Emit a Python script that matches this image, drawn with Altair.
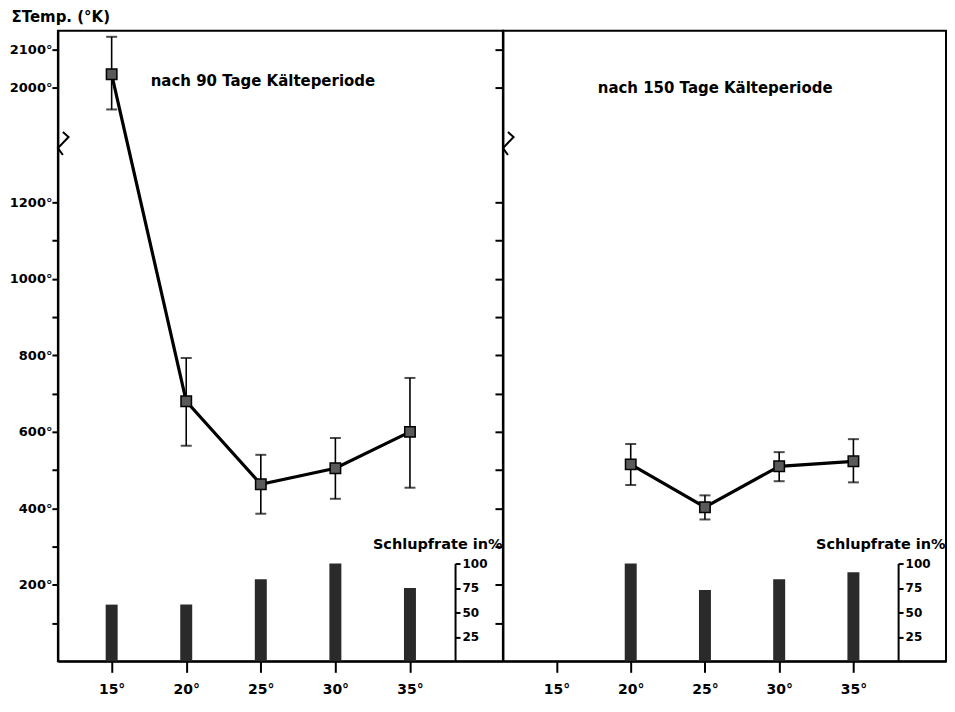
import altair as alt
import pandas as pd

# ---------------- data ----------------
temps = [15, 20, 25, 30, 35]

# after 90 days cold period
t90_temp = [15, 20, 25, 30, 35]
t90_mean = [2035, 680, 463, 505, 600]
t90_lo = [1943, 564, 386, 425, 454]
t90_hi = [2133, 793, 540, 584, 741]
rate90_temp = [15, 20, 25, 30, 35]
rate90 = [58, 58, 84, 100, 75]

# after 150 days cold period
t150_temp = [20, 25, 30, 35]
t150_mean = [515, 403, 510, 523]
t150_lo = [461, 371, 471, 468]
t150_hi = [568, 434, 547, 581]
rate150_temp = [20, 25, 30, 35]
rate150 = [100, 73, 84, 91]

# broken y axis: values above BREAK_AT are shifted down by BREAK_GAP
BREAK_AT = 1500
BREAK_GAP = 500
y_tick_values = [100, 200, 300, 400, 500, 600, 700, 800, 900, 1000, 1100, 1200, 2000, 2100]
y_label_values = [200, 400, 600, 800, 1000, 1200, 2000, 2100]
rate_ticks = [25, 50, 75, 100]

titles = ["nach 90 Tage Kälteperiode", "nach 150 Tage Kälteperiode"]

# ---------------- helpers ----------------
def disp(v):
    return v - BREAK_GAP if v > BREAK_AT else v

FONT = "DejaVu Sans"
W, H = 446, 632
XDOM = [11.73, 40.9]
YDOM = [0, 1649]
UPPER_DISP = 1350  # display values above this belong to the upper (shifted) segment

# zigzag for the axis break (display units)
zig = pd.DataFrame({
    "x": [XDOM[0], XDOM[0] + 0.38, XDOM[0] - 0.33, XDOM[0]],
    "y": [1384, 1371, 1342, 1324],
    "o": [0, 1, 2, 3],
})
zig_gap = pd.DataFrame({"x": [XDOM[0]], "y": [1326], "y2": [1382]})


def panel(tt, mean, lo, hi, rt, rate, title, first):
    df = pd.DataFrame({
        "temp": tt,
        "mean": [disp(v) for v in mean],
        "lo": [disp(v) for v in lo],
        "hi": [disp(v) for v in hi],
    })
    dfr = pd.DataFrame({"temp": rt, "rate": rate})

    x = alt.X(
        "temp:Q",
        scale=alt.Scale(domain=XDOM, nice=False, zero=False),
        axis=alt.Axis(
            values=temps, labelExpr="datum.value + '°'", title=None,
            tickSize=11, tickWidth=2, tickColor="black", domainColor="black",
            domainWidth=2, labelFontSize=14, labelFont=FONT, labelFontWeight="bold",
            labelColor="black", labelPadding=10, grid=False,
        ),
    )
    yscale = alt.Scale(domain=YDOM, nice=False, zero=False)
    disp_ticks = [disp(v) for v in y_tick_values]
    disp_labels = [disp(v) for v in y_label_values]
    label_expr = (
        "indexof(" + str(disp_labels) + ", datum.value) >= 0 ? "
        "(datum.value > " + str(UPPER_DISP) + " ? datum.value + " + str(BREAK_GAP) +
        " : datum.value) + '°' : ''"
    )
    if first:
        yaxis = alt.Axis(
            values=disp_ticks, labelExpr=label_expr, title="ΣTemp. (°K)",
            titleAngle=0, titleAlign="left", titleBaseline="middle",
            titleX=-47, titleY=-14, titleFont=FONT, titleFontSize=15,
            titleFontWeight="bold", titleColor="black",
            tickSize=6, tickWidth=2, tickColor="black", domainColor="black",
            domainWidth=2, labelFontSize=13, labelFont=FONT, labelFontWeight="bold",
            labelColor="black", labelPadding=0, grid=False, minExtent=44, maxExtent=44,
        )
    else:
        yaxis = alt.Axis(
            values=disp_ticks, labels=False, title=None,
            tickSize=8, tickWidth=2, tickColor="black", domainColor="black",
            domainWidth=2, grid=False, minExtent=0, maxExtent=0,
        )

    base = alt.Chart(df)
    err = base.mark_rule(color="black", strokeWidth=1.6).encode(
        x=x, y=alt.Y("lo:Q", scale=yscale, axis=yaxis), y2="hi:Q")
    cap_lo = base.mark_tick(color="black", orient="horizontal", size=11, thickness=2).encode(
        x=x, y=alt.Y("lo:Q", scale=yscale))
    cap_hi = base.mark_tick(color="black", orient="horizontal", size=11, thickness=2).encode(
        x=x, y=alt.Y("hi:Q", scale=yscale))
    line = base.mark_line(color="black", strokeWidth=3.2).encode(
        x=x, y=alt.Y("mean:Q", scale=yscale))
    pts = base.mark_square(size=110, fill="#5a5a5a", stroke="black", strokeWidth=1.5,
                           opacity=1).encode(x=x, y=alt.Y("mean:Q", scale=yscale))
    txt = alt.Chart(pd.DataFrame({"t": [title]})).mark_text(
        align="left", baseline="middle", font=FONT, fontSize=15, fontWeight="bold",
        color="black"
    ).encode(text="t:N", x=alt.value(93 if first else 95), y=alt.value(50 if first else 57))
    gap = alt.Chart(zig_gap).mark_rule(color="white", strokeWidth=4).encode(
        x=alt.X("x:Q", scale=alt.Scale(domain=XDOM)), y=alt.Y("y:Q", scale=yscale), y2="y2:Q")
    zz = alt.Chart(zig).mark_line(color="black", strokeWidth=2).encode(
        x=alt.X("x:Q", scale=alt.Scale(domain=XDOM)), y=alt.Y("y:Q", scale=yscale), order="o:Q")

    main = alt.layer(err, cap_lo, cap_hi, line, pts, txt, gap, zz)

    bars = alt.Chart(dfr).mark_bar(color="#2a2a2a", width=12).encode(
        x=x,
        y=alt.Y(
            "rate:Q",
            scale=alt.Scale(domain=[0, 100], range=[H, H - 98], nice=False),
            axis=alt.Axis(
                orient="right", offset=-48, values=rate_ticks, title="Schlupfrate in%",
                titleAngle=0, titleAlign="right", titleBaseline="alphabetic",
                titleX=47, titleY=H - 98 - 15, titleFont=FONT, titleFontSize=14.5,
                titleFontWeight="bold", titleColor="black",
                tickSize=5, tickWidth=2, tickColor="black", domainColor="black",
                domainWidth=2, labelFontSize=12, labelFont=FONT, labelFontWeight="bold",
                labelColor="black", labelPadding=2, grid=False, labelBaseline="middle",
            ),
        ),
    )
    return alt.layer(main, bars).resolve_scale(y="independent").properties(width=W, height=H)


left = panel(t90_temp, t90_mean, t90_lo, t90_hi, rate90_temp, rate90, titles[0], True)
right = panel(t150_temp, t150_mean, t150_lo, t150_hi, rate150_temp, rate150, titles[1], False).properties(width=444)

chart = alt.hconcat(left, right, spacing=0, bounds="flush").properties(
    padding=0, background="white"
).configure_view(stroke="black", strokeWidth=2)

chart.save("out.html", embed_options={"renderer": "svg", "actions": False})
